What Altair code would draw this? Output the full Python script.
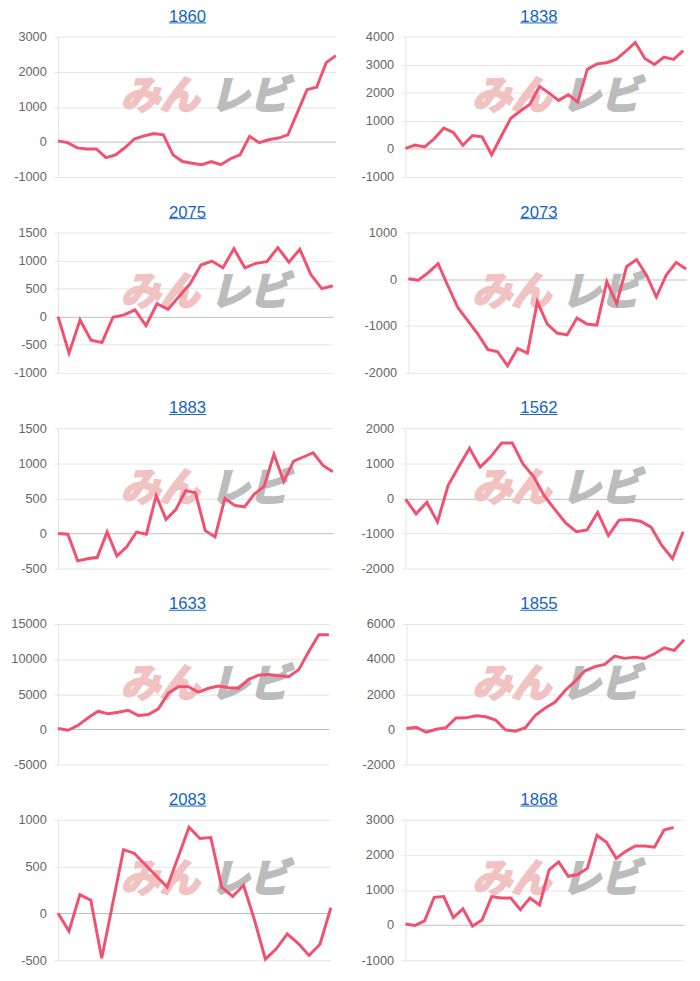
import altair as alt
import pandas as pd

# ---- data ----
titles = ["1860", "1838", "2075", "2073", "1883", "1562", "1633", "1855", "2083", "1868"]

s1860 = [30, -20, -170, -200, -200, -450, -370, -160, 90, 170, 240, 200, -370, -560, -610,
         -650, -560, -650, -480, -370, 160, -20, 60, 110, 200, 840, 1490, 1560, 2260, 2460]
s1838 = [20, 140, 70, 360, 740, 590, 130, 480, 430, -210, 450, 1090, 1350, 1590, 2230,
         1990, 1730, 1930, 1670, 2840, 3030, 3070, 3190, 3480, 3790, 3220, 3010, 3270, 3190, 3500]
s2075 = [0, -650, -60, -420, -460, -10, 30, 120, -160, 230, 130, 360, 580, 920, 990,
         870, 1210, 870, 950, 980, 1230, 970, 1200, 750, 500, 550]
s2073 = [10, -20, 140, 330, -150, -610, -890, -1170, -1500, -1550, -1850, -1480, -1580, -480,
         -960, -1150, -1190, -830, -960, -980, -50, -520, 270, 420, 90, -380, 90, 360, 220]
s1883 = [0, -10, -390, -360, -340, 20, -320, -190, 20, -10, 540, 200, 340, 610, 580,
         40, -50, 500, 400, 380, 560, 670, 1130, 740, 1030, 1090, 1150, 970, 880]
s1562 = [-20, -440, -110, -670, 370, 910, 1430, 890, 1190, 1580, 1580, 980, 620, 70,
         -320, -700, -950, -900, -400, -1060, -620, -600, -650, -820, -1340, -1720, -950]
s1633 = [100, -140, 560, 1640, 2570, 2200, 2430, 2710, 1960, 2100, 2900, 5140, 6070, 6070,
         5280, 5840, 6170, 5930, 5840, 7100, 7710, 7800, 7620, 7480, 8500, 11120, 13460, 13460]
s1855 = [40, 110, -170, 0, 90, 640, 650, 770, 710, 520, -40, -110, 90, 800, 1210,
         1550, 2210, 2730, 3330, 3570, 3700, 4170, 4040, 4110, 4040, 4300, 4640, 4500, 5100]
s2083 = [0, -190, 200, 140, -480, 100, 680, 640, 520, 400, 280, 600, 920, 800, 810,
         280, 180, 300, -70, -490, -380, -220, -320, -450, -330, 60]
s1868 = [30, -10, 120, 790, 810, 210, 460, -30, 140, 810, 770, 770, 440, 770, 570,
         1570, 1800, 1390, 1440, 1620, 2560, 2360, 1900, 2100, 2250, 2250, 2220, 2710, 2780]

series = [s1860, s1838, s2075, s2073, s1883, s1562, s1633, s1855, s2083, s1868]
slots = [30, 30, 26, 29, 29, 27, 28, 29, 26, 30]
y_min = [-1000, -1000, -1000, -2000, -500, -2000, -5000, -2000, -500, -1000]
y_max = [3000, 4000, 1500, 1000, 1500, 2000, 15000, 6000, 1000, 3000]
y_step = [1000, 1000, 500, 1000, 500, 1000, 5000, 2000, 500, 1000]

# ---- layout / style ----
FONT = "Liberation Sans"
RED = "#f2506f"
BLUE = "#1565c0"
GRID = "#e4e4e4"
ZERO = "#bdbdbd"
H = 143
LEFT_START = 57
left_w = [283, 280, 280, 276, 278]
right_start = [402, 405, 402, 403, 402]
right_w = 283
gaps = [19, 25, 22, 27, 24]


def panel(k):
    r, col = divmod(k, 2)
    if col == 0:
        w, start, title_c, wm_c = left_w[r], LEFT_START, 189, 161
    else:
        w, start, title_c, wm_c = right_w, right_start[r], 538, 510
    vals = series[k]
    df = pd.DataFrame({"i": list(range(len(vals))), "v": vals})
    ticks = list(range(y_min[k], y_max[k] + 1, y_step[k]))
    y = alt.Y(
        "v:Q",
        scale=alt.Scale(domain=[y_min[k], y_max[k]], nice=False, zero=False),
        axis=alt.Axis(values=ticks, title=None, grid=True,
                      gridColor=alt.condition("datum.value === 0", alt.value(ZERO), alt.value(GRID)),
                      domainColor=GRID, tickColor=GRID, tickSize=4, labelPadding=8,
                      labelFontSize=13, labelColor="#666666", labelFont=FONT,
                      labelExpr="'' + datum.value"),
    )
    x = alt.X("i:Q", scale=alt.Scale(domain=[0, slots[k] - 1], nice=False, zero=False),
              axis=None)
    one = pd.DataFrame({"t": [titles[k]]})
    cx = title_c - start
    wx = wm_c - start
    mark1 = alt.Chart(pd.DataFrame({"t": ["みん"]})).mark_text(
        font="Noto Sans CJK JP", fontSize=40, fontWeight="bold", fontStyle="italic",
        color="#f0c2c2", stroke="#f0c2c2", strokeWidth=2.5, align="center", baseline="middle"
    ).encode(x=alt.value(wx), y=alt.value(62), text="t:N")
    mark2 = alt.Chart(pd.DataFrame({"t": ["レビ"]})).mark_text(
        font="Noto Sans CJK JP", fontSize=40, fontWeight="bold", fontStyle="italic",
        color="#bcbcbc", stroke="#bcbcbc", strokeWidth=2.5, align="center", baseline="middle"
    ).encode(x=alt.value(wx + 91), y=alt.value(62), text="t:N")
    line = alt.Chart(df).mark_line(color=RED, strokeWidth=3).encode(x=x, y=y)
    ttl = alt.Chart(one).mark_text(
        font=FONT, fontSize=17, color=BLUE, align="center", baseline="alphabetic"
    ).encode(x=alt.value(cx), y=alt.value(-15), text="t:N")
    ul = alt.Chart(one).mark_rule(color=BLUE, strokeWidth=1).encode(
        x=alt.value(cx - 19), x2=alt.value(cx + 19), y=alt.value(-14))
    return alt.layer(mark1, mark2, line, ttl, ul).properties(width=w, height=H)


rows = []
for r in range(5):
    rows.append(alt.hconcat(panel(2 * r), panel(2 * r + 1), spacing=gaps[r]))

chart = alt.vconcat(*rows, spacing=20.5).properties(
    padding={"left": 2, "top": -9, "right": 0, "bottom": 0}
).configure_view(stroke=None)

chart.save("out.html", embed_options={"renderer": "svg", "actions": False})
